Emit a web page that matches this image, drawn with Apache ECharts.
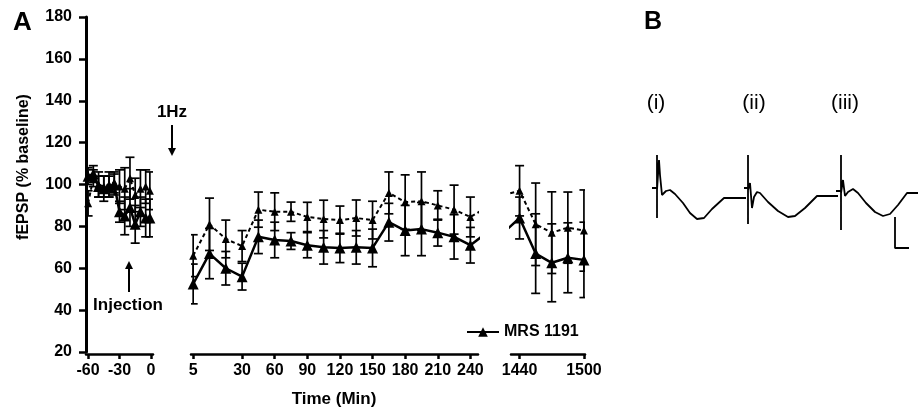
<!DOCTYPE html>
<html>
<head>
<meta charset="utf-8">
<script src="https://cdn.jsdelivr.net/npm/echarts@6/dist/echarts.min.js"></script>
<style>
  html, body { margin: 0; background: #fff; }
  #chart { width: 918px; height: 411px; }
</style>
</head>
<body>
<div id="chart"></div>
<script>
// baseline, before 1Hz (min)
const timesA = [-60, -55, -50, -45, -40, -35, -30, -25, -20, -15, -10, -5, -1];
const mrsA = [104, 105, 99, 98, 99, 100, 87, 85, 89, 81, 87, 84, 84];
const mrsErrA = [4, 4, 5, 6, 5, 5, 5, 9, 9, 9, 7, 9, 9];
const ctrlA = [91, 103, 100, 99, 100, 101, 99, 98, 103, 95, 98, 99, 97];
const ctrlErrA = [6, 4, 6, 5, 6, 5, 8, 10, 10, 8, 9, 8, 9];

// after 1Hz (first point sits on the "5" tick)
const timesB = [-15, 0, 15, 30, 45, 60, 75, 90, 105, 120, 135, 150, 165, 180, 195, 210, 225, 240, 255];
const mrsB = [52.5, 67, 60, 56, 75, 73.5, 73, 71, 70, 69.7, 70, 69.7, 82, 78, 78.7, 77, 75, 71, 77];
const mrsErrB = [9.5, 12, 8, 6.4, 8, 8.5, 4, 6, 8, 7, 8, 9, 9, 12, 12.7, 6.4, 10.6, 8.5, 8];
const ctrlB = [66, 81, 74, 70.6, 88, 87, 87, 84.5, 83.5, 83, 84, 83, 96, 91.6, 92, 90, 88, 84.5, 89];
const ctrlErrB = [10, 12.5, 9, 7.4, 8.4, 9, 4.6, 7, 9, 6.7, 8.6, 9, 10, 13, 14, 7, 11.7, 9.5, 9];

// next day
const timesC = [1425, 1440, 1455, 1470, 1485, 1500];
const mrsC = [77, 84, 67, 62.6, 65, 64];
const mrsErrC = [8, 10, 19, 18.6, 16.7, 18];
const ctrlC = [95, 97, 81, 77, 79.4, 78];
const ctrlErrC = [8, 12, 19.7, 19.5, 17, 19.4];

// tick labels
const tickValsA = [-60, -30, 0];
const tickValsB = [-15, 30, 60, 90, 120, 150, 180, 210, 240];
const tickTextB = ['5', '30', '60', '90', '120', '150', '180', '210', '240'];
const tickValsC = [1440, 1500];

// panel B traces [ms, mV]
const traceI = [[1.2, 0], [1.7, 0], [1.7, 3.3], [1.7, -3.0], [1.7, -0.2], [1.9, 2.8], [2.0, 1.3], [2.2, -0.7],
  [2.6, -0.3], [3.0, -0.2], [3.5, -0.6], [4.3, -1.5], [5.0, -2.5], [5.7, -3.1], [6.4, -3.0], [7.2, -2.1],
  [8.4, -1.0], [10.6, -1.0]];
const traceII = [[10.4, 0], [10.8, 0], [10.8, 3.3], [10.8, -3.6], [10.8, -0.2], [11.0, 0.5], [11.2, -2.0],
  [11.4, -0.9], [11.7, -0.4], [12.0, -0.5], [12.8, -1.4], [13.8, -2.3], [14.8, -2.9], [15.5, -2.8],
  [16.5, -2.0], [17.7, -0.8], [19.8, -0.8]];
const traceIII = [[19.6, -0.3], [20.1, -0.3], [20.1, 3.3], [20.1, -4.2], [20.1, -0.5], [20.3, 0.8], [20.5, -0.8],
  [20.8, -0.4], [21.3, -0.1], [21.8, -0.5], [22.6, -1.5], [23.5, -2.4], [24.3, -2.8], [25.0, -2.6],
  [25.8, -1.7], [26.7, -0.5], [27.8, -0.5]];
const scaleBar = [[25.5, -2.9], [25.5, -6.0], [26.9, -6.0]];

const FONT = 'Liberation Sans, Arial, sans-serif';

const chart = echarts.init(document.getElementById('chart'));

function pairs(t, v) { return t.map((x, i) => [x, v[i]]); }
function triples(t, v, e) { return t.map((x, i) => [x, v[i], e[i]]); }

function errorBars(idx, t, v, e) {
  return {
    type: 'custom', xAxisIndex: idx, yAxisIndex: idx, clip: true, z: 1, silent: true,
    data: triples(t, v, e),
    encode: { x: 0, y: 1 },
    renderItem: function (params, api) {
      const x = api.value(0), y = api.value(1), d = api.value(2);
      const hi = api.coord([x, y + d]);
      const lo = api.coord([x, y - d]);
      const st = { stroke: '#000', lineWidth: 1.7 };
      return {
        type: 'group',
        children: [
          { type: 'line', shape: { x1: hi[0], y1: hi[1], x2: lo[0], y2: lo[1] }, style: st },
          { type: 'line', shape: { x1: hi[0] - 4.5, y1: hi[1], x2: hi[0] + 4.5, y2: hi[1] }, style: st },
          { type: 'line', shape: { x1: lo[0] - 4.5, y1: lo[1], x2: lo[0] + 4.5, y2: lo[1] }, style: st }
        ]
      };
    }
  };
}

function mrsLine(idx, t, v) {
  return {
    name: 'MRS 1191', type: 'line', xAxisIndex: idx, yAxisIndex: idx, z: 4,
    data: pairs(t, v), symbol: 'triangle', symbolSize: 11,
    lineStyle: { color: '#000', width: 2.5 }, itemStyle: { color: '#000' }
  };
}

function ctrlLine(idx, t, v) {
  return {
    name: 'control', type: 'line', xAxisIndex: idx, yAxisIndex: idx, z: 3,
    data: pairs(t, v), symbol: 'triangle', symbolSize: 8,
    lineStyle: { color: '#000', width: 2, type: [4, 3] }, itemStyle: { color: '#000' }
  };
}

function xAxisBase(idx, min, max, ticks, fmt) {
  return {
    type: 'value', gridIndex: idx, min: min, max: max, offset: 2,
    axisLine: { onZero: false, lineStyle: { color: '#000', width: 2.5 } },
    axisTick: { length: 5, customValues: ticks, lineStyle: { color: '#000', width: 2.5 } },
    axisLabel: {
      customValues: ticks, color: '#000', fontWeight: 'bold', fontSize: 16, fontFamily: FONT, margin: 9,
      formatter: fmt
    },
    splitLine: { show: false }
  };
}

function hiddenY(idx) {
  return { type: 'value', gridIndex: idx, min: 20, max: 180, show: false };
}

function traceSeries(data) {
  return {
    type: 'line', xAxisIndex: 3, yAxisIndex: 3, data: data, symbol: 'none', clip: false, silent: true,
    lineStyle: { color: '#000', width: 1.8 }
  };
}

const option = {
  animation: false,
  textStyle: { fontFamily: FONT },
  grid: [
    { left: 86, top: 17, width: 67, height: 335 },
    { left: 191, top: 17, width: 287, height: 335 },
    { left: 511, top: 17, width: 74, height: 335 },
    { left: 640, top: 140, width: 278, height: 120 }
  ],
  xAxis: [
    xAxisBase(0, -62, 2, tickValsA, v => String(v)),
    xAxisBase(1, -17, 247, tickValsB, v => tickTextB[tickValsB.indexOf(v)]),
    xAxisBase(2, 1432, 1501, tickValsC, v => String(v)),
    { type: 'value', gridIndex: 3, min: 0, max: 27.8, show: false }
  ],
  yAxis: [
    {
      type: 'value', gridIndex: 0, min: 20, max: 180, interval: 20, position: 'left',
      axisLine: { show: true, onZero: false, lineStyle: { color: '#000', width: 3 } },
      axisTick: { show: true, length: 7, lineStyle: { color: '#000', width: 2.5 } },
      axisLabel: { color: '#000', fontWeight: 'bold', fontSize: 16, fontFamily: FONT, margin: 14 },
      splitLine: { show: false }
    },
    hiddenY(1),
    hiddenY(2),
    { type: 'value', gridIndex: 3, min: -7.2, max: 4.8, show: false }
  ],
  legend: {
    data: ['MRS 1191'], left: 466, top: 324, itemWidth: 32, itemHeight: 12, padding: 0,
    textStyle: { color: '#000', fontWeight: 'bold', fontSize: 16, fontFamily: FONT }
  },
  series: [
    errorBars(0, timesA, ctrlA, ctrlErrA),
    errorBars(0, timesA, mrsA, mrsErrA),
    errorBars(1, timesB, ctrlB, ctrlErrB),
    errorBars(1, timesB, mrsB, mrsErrB),
    errorBars(2, timesC, ctrlC, ctrlErrC),
    errorBars(2, timesC, mrsC, mrsErrC),
    ctrlLine(0, timesA, ctrlA),
    ctrlLine(1, timesB, ctrlB),
    ctrlLine(2, timesC, ctrlC),
    mrsLine(0, timesA, mrsA),
    mrsLine(1, timesB, mrsB),
    mrsLine(2, timesC, mrsC),
    traceSeries(traceI),
    traceSeries(traceII),
    traceSeries(traceIII),
    traceSeries(scaleBar)
  ],
  graphic: [
    { type: 'text', left: 13, top: 10, style: { text: 'A', font: 'bold 26px ' + FONT, fill: '#000' } },
    { type: 'text', left: 644, top: 10, style: { text: 'B', font: 'bold 25px ' + FONT, fill: '#000' } },
    { type: 'text', x: 656, y: 103, style: { text: '(i)', font: '21px ' + FONT, fill: '#000', align: 'center', verticalAlign: 'middle' } },
    { type: 'text', x: 754, y: 103, style: { text: '(ii)', font: '21px ' + FONT, fill: '#000', align: 'center', verticalAlign: 'middle' } },
    { type: 'text', x: 845, y: 103, style: { text: '(iii)', font: '21px ' + FONT, fill: '#000', align: 'center', verticalAlign: 'middle' } },
    {
      type: 'text', x: 24, y: 167, rotation: Math.PI / 2,
      style: { text: 'fEPSP (% baseline)', font: 'bold 16px ' + FONT, fill: '#000', align: 'center', verticalAlign: 'middle' }
    },
    { type: 'text', x: 334, y: 399, style: { text: 'Time (Min)', font: 'bold 17px ' + FONT, fill: '#000', align: 'center', verticalAlign: 'middle' } },
    { type: 'text', x: 172, y: 112, style: { text: '1Hz', font: 'bold 17px ' + FONT, fill: '#000', align: 'center', verticalAlign: 'middle' } },
    { type: 'line', shape: { x1: 172, y1: 125, x2: 172, y2: 150 }, style: { stroke: '#000', lineWidth: 2 } },
    { type: 'polygon', shape: { points: [[168, 148], [176, 148], [172, 156]] }, style: { fill: '#000' } },
    { type: 'text', x: 128, y: 305, style: { text: 'Injection', font: 'bold 17px ' + FONT, fill: '#000', align: 'center', verticalAlign: 'middle' } },
    { type: 'line', shape: { x1: 129, y1: 292, x2: 129, y2: 267 }, style: { stroke: '#000', lineWidth: 2 } },
    { type: 'polygon', shape: { points: [[125, 269], [133, 269], [129, 261]] }, style: { fill: '#000' } }
  ]
};

chart.setOption(option);
</script>
</body>
</html>
